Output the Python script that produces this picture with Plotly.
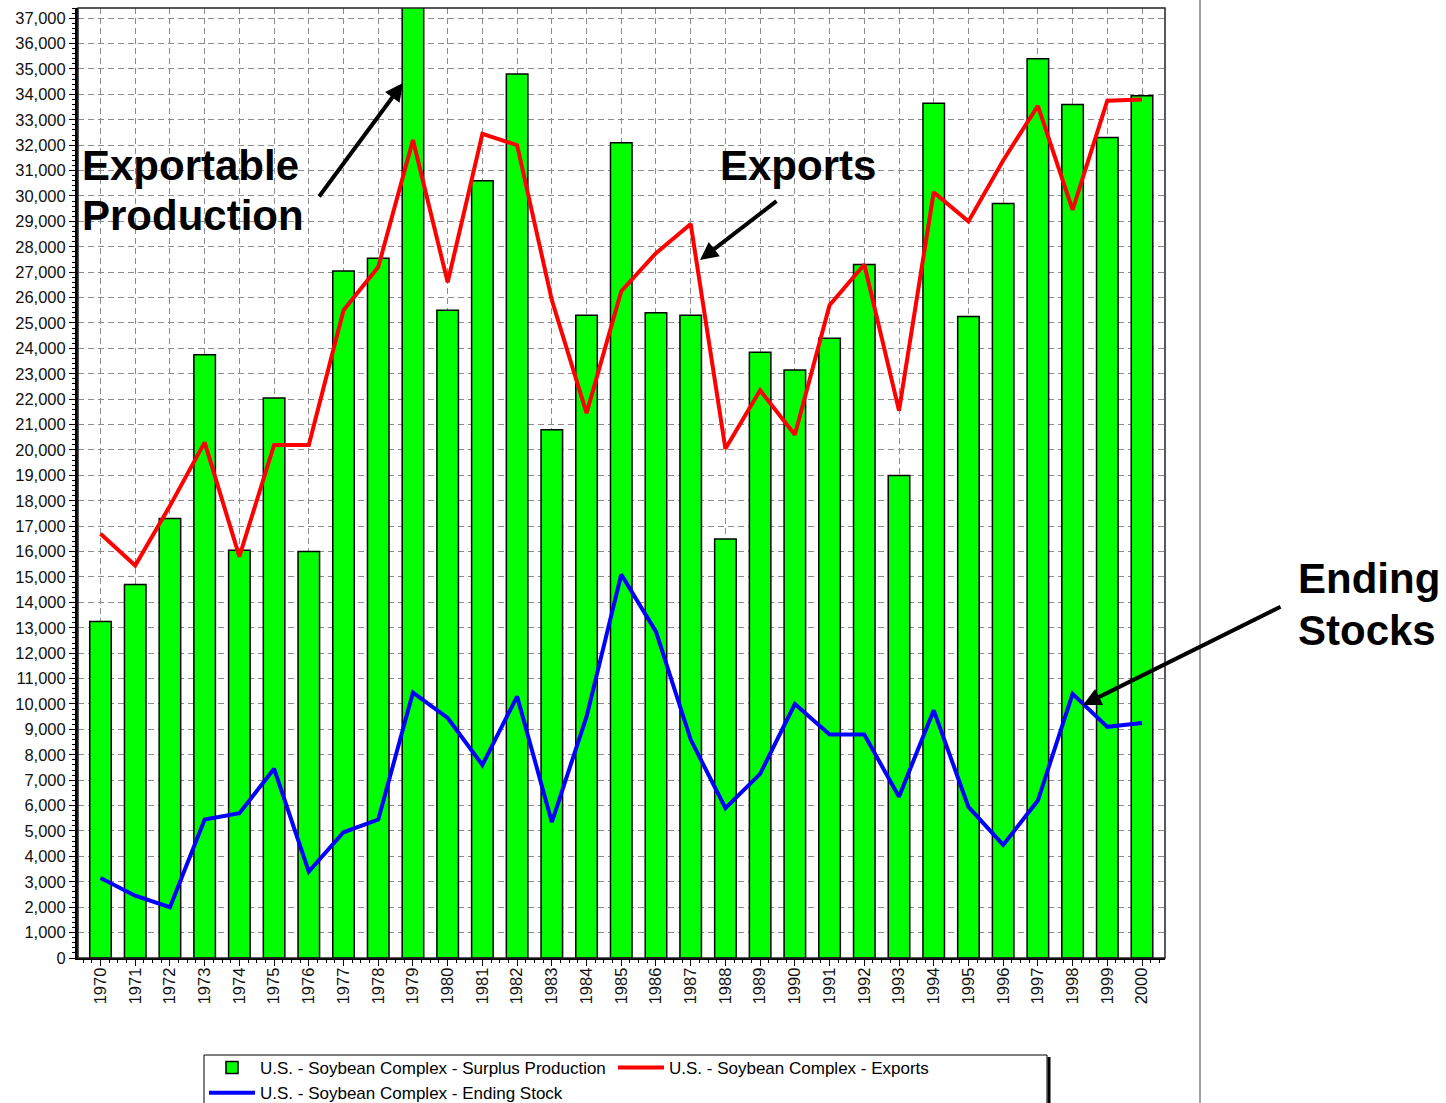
import plotly.graph_objects as go

# ---------------- data ----------------
years = list(range(1970, 2001))
surplus_production = [13250, 14700, 17300, 23750, 16050, 22050, 16000, 27050, 27550, 37800,
                      25500, 30600, 34800, 20800, 25300, 32100, 25400, 25300, 16500, 23850,
                      23150, 24400, 27300, 19000, 33650, 25250, 29700, 35400, 33600, 32300, 33950]
exports = [16700, 15450, 17800, 20300, 15800, 20200, 20200, 25500, 27200, 32200,
           26600, 32450, 32000, 25900, 21450, 26250, 27750, 28900, 20050, 22350,
           20600, 25700, 27300, 21550, 30150, 29000, 31400, 33550, 29450, 33750, 33800]
ending_stock = [3150, 2450, 2000, 5450, 5700, 7450, 3400, 4950, 5450, 10450,
                9450, 7600, 10300, 5350, 9500, 15100, 12850, 8600, 5900, 7250,
                10000, 8800, 8800, 6350, 9750, 5950, 4450, 6200, 10400, 9100, 9250]

series_names = ["U.S. - Soybean Complex - Surplus Production",
                "U.S. - Soybean Complex - Exports",
                "U.S. - Soybean Complex - Ending Stock"]

# ---------------- layout geometry ----------------
W, H = 1446, 1103
ML, MR, MT, MB = 78, 281, 8, 145
PW, PH = W - ML - MR, H - MT - MB
XR = [1969.352, 2000.662]
YR = [0, 37400]

def px_x(px):
    return (px - ML) / PW

def px_y(py):
    return (H - MB - py) / PH

def dx(px):
    return XR[0] + (px - ML) / PW * (XR[1] - XR[0])

def dy(py):
    return YR[0] + (H - MB - py) / PH * (YR[1] - YR[0])

FONT = "Liberation Sans, Arial, sans-serif"

fig = go.Figure()
fig.add_trace(go.Bar(x=years, y=surplus_production, name=series_names[0], width=0.62,
                     marker=dict(color="#00FF00", line=dict(color="black", width=1.5))))
fig.add_trace(go.Scatter(x=years, y=exports, name=series_names[1], mode="lines",
                         line=dict(color="#FF0000", width=4)))
fig.add_trace(go.Scatter(x=years, y=ending_stock, name=series_names[2], mode="lines",
                         line=dict(color="#0000FF", width=4)))

grid = dict(showgrid=True, gridcolor="#8c8c8c", gridwidth=1, griddash="6px,4px")

fig.update_layout(
    width=W, height=H,
    margin=dict(l=ML, r=MR, t=MT, b=MB, autoexpand=False),
    paper_bgcolor="white", plot_bgcolor="white",
    font=dict(family=FONT, size=16.5, color="#111"),
    showlegend=True,
    legend=dict(orientation="h", x=px_x(204), xanchor="left", y=px_y(1050), yanchor="top",
                bgcolor="rgba(0,0,0,0)", borderwidth=0,
                font=dict(family=FONT, size=17, color="black"),
                entrywidth=348, itemwidth=46, traceorder="normal"),
    xaxis=dict(range=XR, tickmode="linear", tick0=1970, dtick=1, tickangle=-90,
               ticks="outside", ticklen=6, tickcolor="black", showline=True, linecolor="black",
               linewidth=2, zeroline=False, ticklabelstandoff=-5,
               minor=dict(dtick=0.25, ticks="outside", ticklen=3, tickcolor="black", showgrid=False),
               tickfont=dict(family=FONT, size=16.5, color="#111"), **grid),
    yaxis=dict(range=YR, tickmode="linear", tick0=0, dtick=1000, tickformat=",",
               ticks="outside", ticklen=6, tickcolor="black", showline=True, linecolor="black",
               linewidth=3, zeroline=False,
               minor=dict(dtick=200, ticks="outside", ticklen=3, tickcolor="black", showgrid=False),
               tickfont=dict(family=FONT, size=16.5, color="#111"), **grid),
)

# plot frame (top / right border)
fig.add_shape(type="rect", xref="paper", yref="paper", x0=0, x1=1, y0=0, y1=1,
              line=dict(color="#222", width=1.5), layer="above")
# page separator line on the right
fig.add_shape(type="line", xref="paper", yref="paper", x0=px_x(1200), x1=px_x(1200),
              y0=px_y(H), y1=px_y(0), line=dict(color="#a0a0a0", width=2))
# legend box with shadow on the right
fig.add_shape(type="rect", xref="paper", yref="paper", x0=px_x(204), x1=px_x(1047),
              y0=px_y(H + 10), y1=px_y(1055), fillcolor="white",
              line=dict(color="black", width=1), layer="above")
fig.add_shape(type="line", xref="paper", yref="paper", x0=px_x(1049), x1=px_x(1049),
              y0=px_y(H), y1=px_y(1057), line=dict(color="black", width=3), layer="above")

# big callout labels
labels = [("Exportable", 80, 165), ("Production", 80, 215), ("Exports", 718, 165),
          ("Ending", 1296, 578), ("Stocks", 1296, 630)]
for txt, lx, ly in labels:
    fig.add_annotation(text=f"<b>{txt}</b>", xref="paper", yref="paper", x=px_x(lx), y=px_y(ly),
                       xanchor="left", yanchor="middle", showarrow=False,
                       font=dict(family=FONT, size=42, color="black"))

# arrows: (head px, tail px)
arrows = [((403, 83), (318, 198)), ((700, 260), (778, 200)), ((1083, 705), (1282, 606))]
for (hx, hy), (tx, ty) in arrows:
    fig.add_annotation(text="", x=dx(hx), y=dy(hy), xref="x", yref="y",
                       ax=tx - hx, ay=ty - hy, showarrow=True, arrowhead=2,
                       arrowsize=0.9, arrowwidth=4, arrowcolor="black", standoff=0)

fig.write_html("out.html", config={"displayModeBar": False},
               post_script="document.body.style.margin='0';document.body.style.overflow='hidden';")
